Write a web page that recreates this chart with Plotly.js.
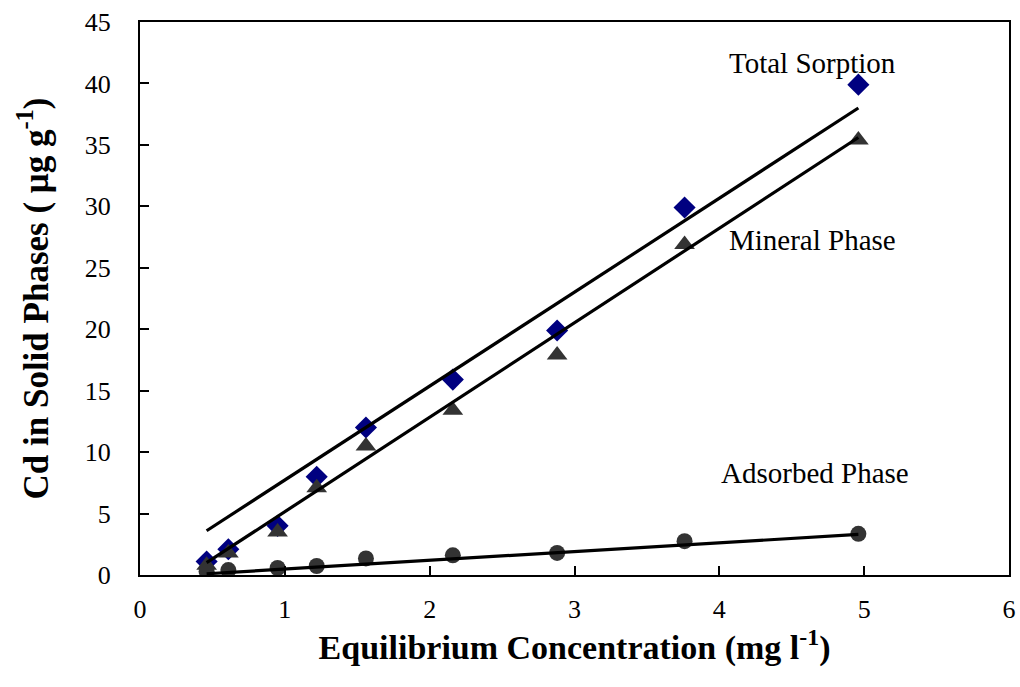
<!DOCTYPE html>
<html>
<head>
<meta charset="utf-8">
<script src="https://cdn.plot.ly/plotly-3.0.1.min.js"></script>
<style>body{margin:0;background:#fff}#chart{width:1020px;height:687px}</style>
</head>
<body>
<div id="chart"></div>
<script>
// Equilibrium concentration (mg l-1)
const conc = [0.46, 0.61, 0.95, 1.22, 1.56, 2.16, 2.88, 3.76, 4.96];
// Cd in solid phases (ug g-1)
const totalSorption = [1.1, 2.1, 4.0, 8.0, 12.0, 15.9, 19.9, 29.9, 39.9];
const mineralPhase  = [0.8, 1.8, 3.5, 7.1, 10.5, 13.4, 17.9, 26.9, 35.4];
const adsorbedPhase = [0.3, 0.4, 0.57, 0.73, 1.35, 1.6, 1.8, 2.75, 3.35];
// Fitted lines (end points)
const fitX = [0.46, 4.96];
const totalFit = [3.6, 38.0];
const mineralFit = [1.0, 35.6];
const adsorbedFit = [0.1, 3.3];
const xTicks = [0, 1, 2, 3, 4, 5, 6];
const yTicks = [0, 5, 10, 15, 20, 25, 30, 35, 40, 45];
const labels = ["Total Sorption", "Mineral Phase", "Adsorbed Phase"];
const labelX = [4.64, 4.64, 4.66];
const labelY = [41.7, 27.3, 8.3];

const serif = "Liberation Serif";
const traces = [
  {x: conc, y: totalSorption, mode: "markers", type: "scatter",
   marker: {symbol: "diamond", size: 17, color: "#000080"}},
  {x: conc, y: mineralPhase, mode: "markers", type: "scatter",
   marker: {symbol: "triangle-up", size: 18, color: "#333333"}},
  {x: conc, y: adsorbedPhase, mode: "markers", type: "scatter",
   marker: {symbol: "circle", size: 16, color: "#333333"}},
  {x: fitX, y: totalFit, mode: "lines", type: "scatter", line: {color: "#000", width: 3.2}},
  {x: fitX, y: mineralFit, mode: "lines", type: "scatter", line: {color: "#000", width: 3.2}},
  {x: fitX, y: adsorbedFit, mode: "lines", type: "scatter", line: {color: "#000", width: 3.2}}
];
const layout = {
  width: 1020, height: 687,
  margin: {l: 140, r: 11, t: 22, b: 112},
  paper_bgcolor: "#fff", plot_bgcolor: "#fff",
  showlegend: false,
  font: {family: serif, color: "#000"},
  xaxis: {
    range: [0, 6], tickvals: xTicks, ticktext: xTicks.map(String),
    showgrid: false, zeroline: false,
    showline: true, mirror: true, linecolor: "#000", linewidth: 2,
    ticks: "inside", ticklen: 9, tickwidth: 2, tickcolor: "#000",
    ticklabelstandoff: 10,
    tickfont: {family: serif, size: 26, color: "#000"},
    title: {text: "<b>Equilibrium Concentration (mg l<sup>-1</sup>)</b>",
            font: {family: serif, size: 34, color: "#000"}, standoff: 10}
  },
  yaxis: {
    range: [0, 45], tickvals: yTicks, ticktext: yTicks.map(String),
    showgrid: false, zeroline: false,
    showline: true, mirror: true, linecolor: "#000", linewidth: 2,
    ticks: "inside", ticklen: 9, tickwidth: 2, tickcolor: "#000",
    ticklabelstandoff: 22,
    tickfont: {family: serif, size: 26, color: "#000"},
    title: {text: "<b>Cd in Solid Phases ( μg g<sup>-1</sup>)</b>",
            font: {family: serif, size: 35, color: "#000"}, standoff: 26}
  },
  annotations: labels.map((t, i) => ({
    x: labelX[i], y: labelY[i], xref: "x", yref: "y", text: t, showarrow: false,
    font: {family: serif, size: 29, color: "#000"}
  }))
};
Plotly.newPlot("chart", traces, layout, {displayModeBar: false, staticPlot: true});
</script>
</body>
</html>
